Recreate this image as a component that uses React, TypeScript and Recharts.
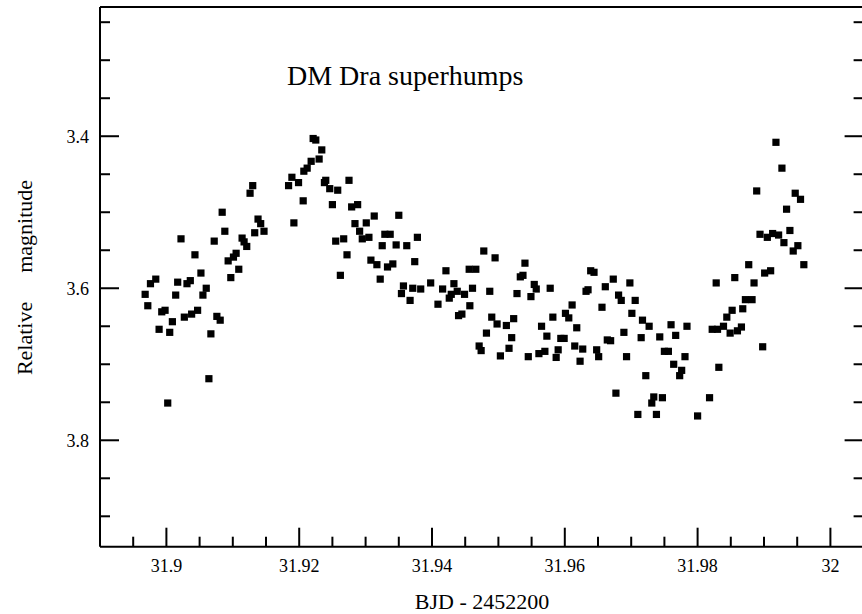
import React from 'react';
import { ScatterChart, Scatter, XAxis, YAxis } from 'recharts';

// BJD - 2452200
const bjd = [
  31.8968, 31.8972, 31.8976, 31.8984, 31.8989, 31.8993, 31.8998, 31.9002, 31.9005, 31.9009,
  31.9014, 31.9017, 31.9022, 31.9027, 31.9031, 31.9036, 31.9038, 31.9043, 31.9047, 31.9052,
  31.9055, 31.9060, 31.9064, 31.9067, 31.9072, 31.9076, 31.9081, 31.9084, 31.9088, 31.9093,
  31.9097, 31.9101, 31.9105, 31.9109, 31.9114, 31.9117, 31.9121, 31.9126, 31.9130, 31.9133,
  31.9138, 31.9142, 31.9147, 31.9184, 31.9189, 31.9192, 31.9199, 31.9206,
  31.9221, 31.9225, 31.9234, 31.9218, 31.9230, 31.9212, 31.9207, 31.9240, 31.9238, 31.9246,
  31.9258, 31.9275, 31.9250, 31.9279, 31.9288, 31.9313, 31.9350, 31.9284, 31.9301, 31.9291,
  31.9295, 31.9305, 31.9255, 31.9267, 31.9329, 31.9337, 31.9325, 31.9346, 31.9362, 31.9378,
  31.9272, 31.9308, 31.9317, 31.9333, 31.9341, 31.9374, 31.9262, 31.9322, 31.9357, 31.9354,
  31.9367, 31.9371, 31.9383, 31.9398, 31.9409, 31.9416, 31.9421, 31.9426, 31.9433, 31.9429,
  31.9438, 31.9449, 31.9456, 31.9466, 31.9461, 31.9457, 31.9440, 31.9445, 31.9478, 31.9495,
  31.9487, 31.9490, 31.9498, 31.9482, 31.9471, 31.9474, 31.9503,
  31.9540, 31.9533, 31.9537, 31.9554, 31.9557, 31.9578, 31.9528, 31.9549, 31.9639, 31.9644,
  31.9673, 31.9698, 31.9661, 31.9632, 31.9635, 31.9681, 31.9685, 31.9706, 31.9611, 31.9656,
  31.9701, 31.9601, 31.9606, 31.9582, 31.9523, 31.9512, 31.9565, 31.9618, 31.9717,
  31.9727, 31.9760, 31.9784, 31.9689, 31.9573, 31.9520, 31.9594, 31.9599, 31.9664, 31.9669,
  31.9715, 31.9743, 31.9767, 31.9516, 31.9615, 31.9627, 31.9590, 31.9570, 31.9561, 31.9648,
  31.9750, 31.9756, 31.9545, 31.9587, 31.9651, 31.9693, 31.9781, 31.9623, 31.9764, 31.9776,
  31.9722, 31.9773, 31.9677, 31.9734, 31.9747, 31.9731, 31.9710, 31.9738, 31.9800,
  31.9918, 31.9927, 31.9889, 31.9947, 31.9955, 31.9934, 31.9939, 31.9894, 31.9905, 31.9913,
  31.9922, 31.9930, 31.9951, 31.9944, 31.9877, 31.9960, 31.9901, 31.9910, 31.9856, 31.9828,
  31.9885, 31.9872, 31.9882, 31.9868, 31.9852, 31.9844, 31.9822, 31.9830, 31.9839, 31.9849,
  31.9860, 31.9866, 31.9898, 31.9832, 31.9818,
];

// Relative magnitude
const mag = [
  3.608, 3.623, 3.594, 3.588, 3.654, 3.631, 3.629, 3.751, 3.658, 3.644,
  3.609, 3.592, 3.535, 3.638, 3.594, 3.590, 3.634, 3.556, 3.629, 3.580,
  3.609, 3.600, 3.719, 3.660, 3.538, 3.637, 3.642, 3.500, 3.525, 3.564,
  3.586, 3.559, 3.554, 3.575, 3.534, 3.539, 3.545, 3.475, 3.465, 3.527,
  3.509, 3.515, 3.525, 3.465, 3.454, 3.514, 3.461, 3.485,
  3.403, 3.405, 3.418, 3.433, 3.430, 3.442, 3.446, 3.458, 3.461, 3.469,
  3.471, 3.458, 3.490, 3.493, 3.490, 3.505, 3.504, 3.515, 3.514, 3.525,
  3.535, 3.533, 3.538, 3.535, 3.529, 3.529, 3.544, 3.543, 3.544, 3.533,
  3.556, 3.563, 3.569, 3.572, 3.568, 3.565, 3.583, 3.588, 3.597, 3.607,
  3.616, 3.600, 3.601, 3.593, 3.621, 3.601, 3.577, 3.613, 3.594, 3.608,
  3.604, 3.608, 3.575, 3.575, 3.600, 3.623, 3.636, 3.634, 3.551, 3.560,
  3.604, 3.638, 3.647, 3.659, 3.676, 3.682, 3.689,
  3.567, 3.585, 3.583, 3.595, 3.601, 3.600, 3.607, 3.611, 3.577, 3.579,
  3.588, 3.593, 3.598, 3.604, 3.602, 3.609, 3.616, 3.616, 3.622, 3.625,
  3.633, 3.633, 3.639, 3.638, 3.640, 3.649, 3.650, 3.652, 3.642,
  3.650, 3.648, 3.650, 3.658, 3.663, 3.665, 3.666, 3.666, 3.668, 3.669,
  3.665, 3.664, 3.662, 3.679, 3.676, 3.680, 3.681, 3.683, 3.686, 3.681,
  3.683, 3.683, 3.690, 3.691, 3.690, 3.690, 3.690, 3.696, 3.700, 3.708,
  3.715, 3.715, 3.738, 3.743, 3.744, 3.751, 3.766, 3.766, 3.768,
  3.408, 3.442, 3.472, 3.475, 3.483, 3.496, 3.524, 3.529, 3.533, 3.528,
  3.530, 3.540, 3.544, 3.551, 3.569, 3.569, 3.580, 3.577, 3.586, 3.593,
  3.593, 3.615, 3.615, 3.627, 3.629, 3.638, 3.654, 3.654, 3.650, 3.659,
  3.656, 3.651, 3.677, 3.704, 3.744,
];

const xMajorTicks = [31.9, 31.92, 31.94, 31.96, 31.98, 32];
const xMinorTicks = [
  31.895, 31.905, 31.91, 31.915, 31.925, 31.93, 31.935, 31.945, 31.95, 31.955,
  31.965, 31.97, 31.975, 31.985, 31.99, 31.995,
];
const yMajorTicks = [3.4, 3.6, 3.8];
const yMinorTicks = [3.25, 3.3, 3.35, 3.45, 3.5, 3.55, 3.65, 3.7, 3.75, 3.85, 3.9];

const xDomain: [number, number] = [31.89, 32.005];
const yDomain: [number, number] = [3.23, 3.94];

const data = bjd.map((x, i) => ({ x, y: mag[i] }));
const xTicks = [...xMajorTicks, ...xMinorTicks].sort((a, b) => a - b);
const yTicks = [...yMajorTicks, ...yMinorTicks].sort((a, b) => a - b);

const FONT = 'Liberation Serif, Times New Roman, Tinos, DejaVu Serif, serif';
const MAJOR = 19;
const MINOR = 10;

const isMajor = (v: number, list: number[]) => list.some((m) => Math.abs(m - v) < 1e-9);

const BottomTick = (props: any) => {
  const { x, y, payload } = props;
  const major = isMajor(payload.value, xMajorTicks);
  return (
    <g>
      <line x1={x} x2={x} y1={y} y2={y - (major ? MAJOR : MINOR)} stroke="#000" strokeWidth={2} />
      {major && (
        <text x={x} y={y + 25.5} textAnchor="middle" fill="#000" style={{ fontFamily: FONT, fontSize: 18 }}>
          {String(payload.value)}
        </text>
      )}
    </g>
  );
};

const TopTick = (props: any) => {
  const { x, y, payload } = props;
  const major = isMajor(payload.value, xMajorTicks);
  return <line x1={x} x2={x} y1={y} y2={y + (major ? MAJOR : MINOR)} stroke="#000" strokeWidth={2} />;
};

const LeftTick = (props: any) => {
  const { x, y, payload } = props;
  const major = isMajor(payload.value, yMajorTicks);
  return (
    <g>
      <line x1={x} x2={x + (major ? MAJOR : MINOR)} y1={y} y2={y} stroke="#000" strokeWidth={2} />
      {major && (
        <text x={x - 11} y={y + 6.5} textAnchor="end" fill="#000" style={{ fontFamily: FONT, fontSize: 18 }}>
          {String(payload.value)}
        </text>
      )}
    </g>
  );
};

const RightTick = (props: any) => {
  const { x, y, payload } = props;
  const major = isMajor(payload.value, yMajorTicks);
  return <line x1={x} x2={x - (major ? MAJOR : MINOR)} y1={y} y2={y} stroke="#000" strokeWidth={2} />;
};

const Square = (props: any) => {
  const { cx, cy } = props;
  if (cx == null || cy == null) return null;
  return <rect x={cx - 3.6} y={cy - 3.6} width={7.2} height={7.2} fill="#000" />;
};

export default function App() {
  return (
    <div
      style={{
        position: 'absolute',
        left: 0,
        top: 0,
        width: 862,
        height: 614,
        overflow: 'hidden',
        background: '#fff',
      }}
    >
      <ScatterChart width={866} height={614} margin={{ top: 0, right: 0, bottom: 0, left: 0 }}>
        <XAxis
          xAxisId="bottom"
          dataKey="x"
          type="number"
          orientation="bottom"
          domain={xDomain}
          allowDataOverflow
          ticks={xTicks}
          interval={0}
          height={67.3}
          tickSize={0}
          tickMargin={0}
          tickLine={false}
          tick={<BottomTick />}
          axisLine={{ stroke: '#000', strokeWidth: 2 }}
        />
        <XAxis
          xAxisId="top"
          type="number"
          orientation="top"
          domain={xDomain}
          allowDataOverflow
          ticks={xTicks}
          interval={0}
          height={7}
          tickSize={0}
          tickMargin={0}
          tickLine={false}
          tick={<TopTick />}
          axisLine={{ stroke: '#000', strokeWidth: 2 }}
        />
        <YAxis
          yAxisId="left"
          dataKey="y"
          type="number"
          orientation="left"
          reversed
          domain={yDomain}
          allowDataOverflow
          ticks={yTicks}
          interval={0}
          width={100}
          tickSize={0}
          tickMargin={0}
          tickLine={false}
          tick={<LeftTick />}
          axisLine={{ stroke: '#000', strokeWidth: 2 }}
        />
        <YAxis
          yAxisId="right"
          type="number"
          orientation="right"
          reversed
          domain={yDomain}
          allowDataOverflow
          ticks={yTicks}
          interval={0}
          width={2.4}
          tickSize={0}
          tickMargin={0}
          tickLine={false}
          tick={<RightTick />}
          axisLine={{ stroke: '#000', strokeWidth: 2 }}
        />
        <Scatter
          xAxisId="bottom"
          yAxisId="left"
          data={data}
          shape={<Square />}
          isAnimationActive={false}
        />
        <text x={287} y={85} fill="#000" style={{ fontFamily: FONT, fontSize: 28 }}>
          DM Dra superhumps
        </text>
        <text x={482} y={609} textAnchor="middle" fill="#000" style={{ fontFamily: FONT, fontSize: 22 }}>
          BJD - 2452200
        </text>
        <text
          transform="translate(32,277.5) rotate(-90)"
          textAnchor="middle"
          fill="#000"
          style={{ fontFamily: FONT, fontSize: 22 }}
        >
          Relative<tspan dx={29}>magnitude</tspan>
        </text>
      </ScatterChart>
    </div>
  );
}
